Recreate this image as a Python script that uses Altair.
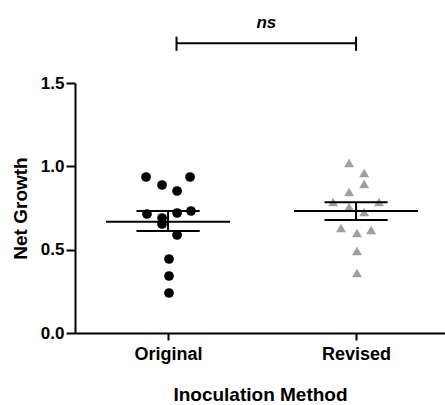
import altair as alt
import pandas as pd

# ---- data ----
groups = ["Original", "Revised"]
group_pos = [1, 2]

orig_vals = [0.936, 0.936, 0.888, 0.852, 0.714, 0.720, 0.732, 0.690, 0.654, 0.588, 0.444, 0.342, 0.240]
orig_jit = [-0.117, 0.117, -0.032, 0.048, -0.112, 0.048, 0.122, -0.032, -0.032, 0.048, 0.005, 0.005, 0.005]

rev_vals = [1.020, 0.960, 0.894, 0.846, 0.786, 0.786, 0.756, 0.726, 0.630, 0.618, 0.600, 0.492, 0.360]
rev_jit = [-0.037, 0.043, 0.043, -0.037, -0.122, 0.122, -0.037, 0.043, -0.080, 0.080, 0.005, 0.005, 0.005]

means = [0.668, 0.732]
sem_lo = [0.612, 0.678]
sem_hi = [0.732, 0.784]

sig_label = "ns"
sig_x = [1.045, 2.0]
sig_y = 1.738

FONT = "Liberation Sans"

pts_o = pd.DataFrame({"x": [group_pos[0] + j for j in orig_jit], "y": orig_vals})
pts_r = pd.DataFrame({"x": [group_pos[1] + j for j in rev_jit], "y": rev_vals})

mean_half = 0.33
cap_half = 0.168
summ = pd.DataFrame({
    "g": group_pos,
    "m": means,
    "lo": sem_lo,
    "hi": sem_hi,
})
summ["ml"] = summ["g"] - mean_half
summ["mr"] = summ["g"] + mean_half
summ["cl"] = summ["g"] - cap_half
summ["cr"] = summ["g"] + cap_half

xscale = alt.Scale(domain=[0.505, 2.473], nice=False, zero=False)
yscale = alt.Scale(domain=[0, 1.5], nice=False)

label_expr = "datum.value == 1 ? '" + groups[0] + "' : (datum.value == 2 ? '" + groups[1] + "' : '')"

x_axis = alt.Axis(values=group_pos, labelExpr=label_expr, title="Inoculation Method",
                  grid=False, tickSize=7, labelPadding=5, titlePadding=22)
y_axis = alt.Axis(values=[0, 0.5, 1.0, 1.5], format=".1f", title="Net Growth",
                  grid=False, tickSize=9, labelPadding=2, titlePadding=10)

base_o = alt.Chart(pts_o)
dots = base_o.mark_point(shape="circle", filled=True, opacity=1, color="black", size=95).encode(
    x=alt.X("x:Q", scale=xscale, axis=x_axis),
    y=alt.Y("y:Q", scale=yscale, axis=y_axis),
)
tris = alt.Chart(pts_r).mark_point(shape="triangle-up", filled=True, opacity=1, color="#a0a0a0", size=100).encode(
    x=alt.X("x:Q", scale=xscale),
    y=alt.Y("y:Q", scale=yscale),
)

sb = alt.Chart(summ)
mean_lines = sb.mark_rule(color="black", strokeWidth=2).encode(
    x=alt.X("ml:Q", scale=xscale), x2="mr:Q", y=alt.Y("m:Q", scale=yscale))
vert = sb.mark_rule(color="black", strokeWidth=2).encode(
    x=alt.X("g:Q", scale=xscale), y=alt.Y("lo:Q", scale=yscale), y2="hi:Q")
cap_lo = sb.mark_rule(color="black", strokeWidth=2).encode(
    x=alt.X("cl:Q", scale=xscale), x2="cr:Q", y=alt.Y("lo:Q", scale=yscale))
cap_hi = sb.mark_rule(color="black", strokeWidth=2).encode(
    x=alt.X("cl:Q", scale=xscale), x2="cr:Q", y=alt.Y("hi:Q", scale=yscale))

sig = pd.DataFrame({"x1": [sig_x[0]], "x2": [sig_x[1]], "y": [sig_y],
                    "xm": [(sig_x[0] + sig_x[1]) / 2], "lab": [sig_label]})
sig_ends = pd.DataFrame({"x": sig_x, "y1": [sig_y - 0.045] * 2, "y2": [sig_y + 0.04] * 2})
sig_line = alt.Chart(sig).mark_rule(color="black", strokeWidth=2).encode(
    x=alt.X("x1:Q", scale=xscale), x2="x2:Q", y=alt.Y("y:Q", scale=yscale))
sig_caps = alt.Chart(sig_ends).mark_rule(color="black", strokeWidth=2).encode(
    x=alt.X("x:Q", scale=xscale), y=alt.Y("y1:Q", scale=yscale), y2="y2:Q")
sig_text = alt.Chart(sig).mark_text(font=FONT, fontSize=17, fontWeight="bold", fontStyle="italic",
                                     color="black", baseline="bottom", dy=-11).encode(
    x=alt.X("xm:Q", scale=xscale), y=alt.Y("y:Q", scale=yscale), text="lab:N")

chart = alt.layer(dots, tris, mean_lines, vert, cap_lo, cap_hi, sig_line, sig_caps, sig_text).properties(
    width=370, height=250,
    autosize=alt.AutoSizeParams(type="none"),
    padding={"left": 75, "top": 83, "right": 0, "bottom": 72},
).configure_view(stroke=None).configure_axis(
    domainColor="black", domainWidth=2, tickColor="black", tickWidth=2,
    labelFont=FONT, labelFontWeight="bold", labelColor="black", labelFontSize=17,
    titleFont=FONT, titleFontWeight="bold", titleColor="black", titleFontSize=19,
).configure_axisX(labelFontSize=18)

chart.save("out.html", embed_options={"renderer": "svg", "actions": False})
